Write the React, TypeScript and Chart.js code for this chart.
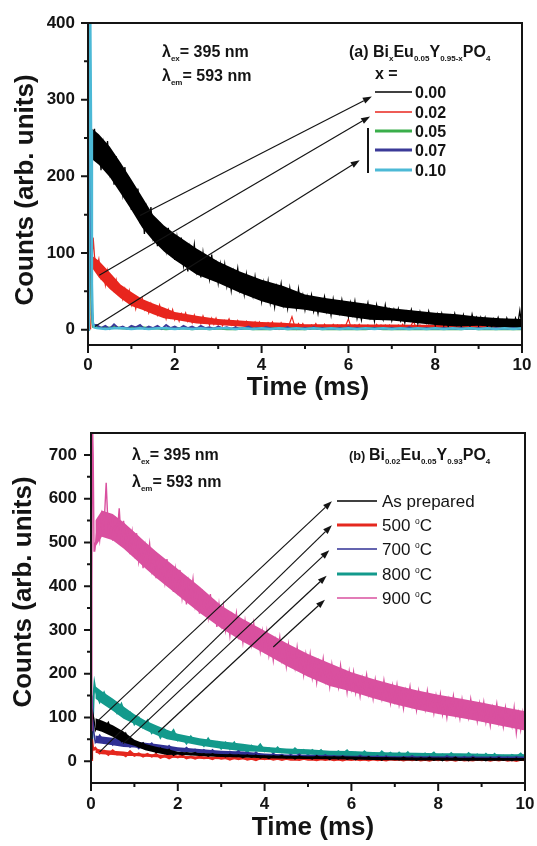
import React, { useEffect, useRef } from 'react';
import { Chart, registerables } from 'chart.js';

Chart.register(...registerables);

const FONT = '"Liberation Sans", Arial, Helvetica, sans-serif';
const INK = '#141414';

// ---------- axes ----------
const timeTicks = [0, 2, 4, 6, 8, 10];
const timeMinorTicks = [1, 3, 5, 7, 9];
const countTicksA = [0, 100, 200, 300, 400];
const countMinorTicksA = [50, 150, 250, 350];
const countTicksB = [0, 100, 200, 300, 400, 500, 600, 700];
const countMinorTicksB = [50, 150, 250, 350, 450, 550, 650];
const timeRange = [0, 10];
const countRangeA = [-20, 400];
const countRangeB = [-50, 750];

// times at which the dense noise band (lower / upper edge of the trace) was read
const envTimes = [0.1, 0.25, 0.5, 0.75, 1, 1.25, 1.5, 1.75, 2, 2.5, 3, 3.5, 4, 4.5, 5, 5.5, 6, 6.5, 7, 7.5, 8, 8.5, 9, 9.5, 10];

// ---------- panel (a): BixEu0.05Y0.95-xPO4 ----------
const seriesNamesA = ['0.00', '0.02', '0.05', '0.07', '0.10'];
const colorsA = ['#000000', '#e8261e', '#3aae4a', '#3b3a98', '#4cb9d6'];

const a000OnsetT = [0, 0.02];
const a000OnsetC = [0, 250];
const a000Start = 0.05;
const a000Step = 0.05;
const a000Counts = [
  262, 230, 262, 219, 242, 208, 243, 221, 246, 205, 225, 189, 226, 193, 200, 177, 212, 178, 192, 156,
  188, 155, 184, 139, 160, 125, 158, 135, 160, 121, 138, 109, 140, 114, 121, 103, 133, 106, 120, 91,
  120, 94, 120, 84, 104, 76, 107, 89, 111, 77, 96, 68, 100, 75, 83, 66, 98, 71, 86, 61,
  85, 64, 85, 57, 74, 51, 76, 62, 80, 52, 67, 46, 72, 51, 58, 44, 69, 48, 60, 37,
  61, 41, 63, 35, 52, 30, 56, 42, 60, 33, 49, 28, 54, 34, 42, 28, 53, 32, 45, 26,
  43, 29, 45, 24, 37, 21, 39, 30, 43, 24, 36, 19, 40, 24, 30, 21, 39, 24, 33, 17,
  35, 20, 37, 15, 29, 13, 31, 22, 35, 16, 28, 11, 32, 17, 22, 13, 32, 16, 26, 12,
  26, 15, 27, 12, 21, 9, 23, 15, 26, 12, 21, 8, 23, 12, 16, 9, 24, 12, 19, 6,
  20, 10, 21, 6, 16, 4, 18, 10, 21, 7, 16, 4, 19, 8, 12, 5, 20, 8, 16, 5,
  16, 7, 16, 4, 12, 3, 14, 8, 16, 5, 12, 3, 15, 6, 9, 3, 15, 6, 25, 2,
];
const a000Lower = [222, 215, 199, 178, 156, 133, 116, 102, 91, 72, 61, 48, 37, 29, 26, 21, 17, 13, 12, 9, 6, 4, 5, 3, 2];
const a000Upper = [262, 255, 239, 218, 196, 173, 150, 136, 125, 106, 89, 76, 65, 57, 46, 41, 37, 33, 28, 25, 22, 20, 17, 15, 14];

const a002OnsetT = [0, 0.06, 0.08, 0.1, 0.12];
const a002OnsetC = [0, 1, 30, 95, 120];
const a002Start = 0.15;
const a002Step = 0.05;
const a002Counts = [
  96, 79, 92, 68, 78, 58, 77, 59, 62, 51, 65, 50, 55, 40, 53, 39, 51, 32, 41, 27,
  41, 32, 41, 26, 33, 22, 34, 24, 27, 19, 32, 21, 26, 14, 26, 16, 26, 13, 20, 11,
  21, 15, 22, 11, 17, 9, 19, 11, 14, 8, 18, 10, 14, 6, 15, 7, 15, 6, 11, 5,
  12, 8, 14, 6, 11, 4, 12, 6, 8, 5, 11, 6, 9, 3, 10, 4, 10, 2, 7, 2,
  9, 5, 10, 2, 7, 1, 9, 3, 5, 2, 9, 17, 7, 1, 8, 3, 8, 1, 5, 1,
  6, 3, 8, 2, 5, 1, 7, 3, 4, 2, 7, 3, 6, 1, 6, 2, 7, 14,
  5, 1, 6, 3, 7, 2, 5, 1, 6, 3, 4, 2, 7, 3, 6, 1, 6, 2, 6, 1,
  5, 2, 6, 1, 7, 2, 4, 1, 6, 11, 4, 1, 6, 3, 5, 1, 6, 2, 5, 1,
  5, 1, 6, 2, 6, 1, 4, 10, 5, 2, 4, 1, 6, 2, 5, 1, 6, 2, 5, 1,
  4, 1, 5, 2, 6, 1, 4, 2, 5, 1, 4, 10, 5, 2, 4, 1, 5, 2, 4, 1,
];
const a002Lower = [80, 68, 53, 41, 31, 26, 20, 15, 13, 8, 6, 4, 2, 1, 1, 1, 1, 1, 1, 1, 1, 1, 1, 1, 1];
const a002Upper = [96, 90, 75, 59, 49, 40, 34, 29, 23, 18, 14, 12, 10, 9, 7, 7, 7, 6.8, 6.6, 6.5, 6.4, 6.3, 6.2, 6.1, 6];

const a005OnsetT = [0, 0.02, 0.04, 0.06, 0.09, 0.12];
const a005OnsetC = [0, 200, 360, 180, 20, 4];
const a005Start = 0.2;
const a005Step = 0.2;
const a005Counts = [
  3, 2, 3, 2, 2, 3, 2, 2, 1, 2, 2, 1, 2, 1, 2, 1, 1, 2, 1, 1,
  1, 2, 1, 1, 1, 2, 1, 1, 1, 1, 1, 1, 2, 1, 1, 1, 1, 1, 1, 1,
  1, 1, 1, 2, 1, 1, 1, 1, 1, 1,
];

const a007OnsetT = [0, 0.02, 0.035, 0.06, 0.09, 0.12];
const a007OnsetC = [0, 260, 420, 160, 25, 6];
const a007Start = 0.2;
const a007Step = 0.1;
const a007Counts = [
  6, 2, 5, 1, 7, 2, 4, 1, 5, 3, 6, 1, 4, 2, 5, 1, 6, 2, 4, 1,
  5, 2, 4, 1, 5, 2, 3, 1, 4, 2, 3, 1, 3, 1, 2, 4, 1, 2, 1, 3,
  2, 1, 2, 1, 3, 1, 2, 1, 2, 1, 3, 1, 2, 1, 2, 1, 2, 1, 3, 1,
  2, 1, 2, 1, 2, 1, 2, 1, 2, 1, 2, 1, 3, 1, 2, 1, 2, 1, 2, 1,
  2, 1, 2, 1, 2, 1, 2, 1, 2, 1, 2, 1, 2, 1, 2, 1, 2, 1, 2,
];

const a010OnsetT = [0, 0.015, 0.03, 0.05, 0.07, 0.09, 0.11, 0.14];
const a010OnsetC = [0, 250, 440, 430, 260, 60, 10, 3];
const a010Start = 0.2;
const a010Step = 0.2;
const a010Counts = [
  2, 1, 2, 2, 1, 2, 1, 2, 2, 1, 2, 1, 2, 1, 2, 2, 1, 2, 1, 2,
  1, 2, 1, 2, 1, 2, 1, 2, 1, 2, 1, 2, 1, 2, 1, 2, 1, 2, 1, 2,
  1, 2, 1, 2, 1, 2, 1, 2, 1, 2,
];

// arrows of panel (a): [time0, count0, time1, count1]
const arrowsA = [
  [1.2, 149, 6.54, 304],
  [0.26, 71, 6.5, 278],
  [0.16, 4, 6.26, 221],
];

// ---------- panel (b): Bi0.02Eu0.05Y0.93PO4 ----------
const seriesNamesB = ['As prepared', '500 °C', '700 °C', '800 °C', '900 °C'];
const colorsB = ['#000000', '#e5281f', '#303094', '#139a8c', '#d9509f'];

const bAsOnsetT = [0, 0.02, 0.04, 0.07];
const bAsOnsetC = [5, 80, 110, 95];
const bAsStart = 0.1;
const bAsStep = 0.1;
const bAsCounts = [
  70, 91, 75, 89, 60, 70, 45, 64, 41, 43, 32, 42, 29, 32, 19, 30, 18, 27, 13, 19,
  14, 19, 16, 20, 13, 17, 11, 17, 12, 13, 10, 16, 11, 14, 8, 14, 9, 14, 7, 11,
  6, 12, 9, 13, 7, 11, 5, 12, 7, 8, 5, 12, 7, 10, 4, 10, 5, 11, 4, 8,
  3, 9, 6, 10, 4, 8, 2, 9, 4, 6, 3, 9, 4, 7, 2, 8, 3, 9, 2, 6,
  1, 7, 4, 9, 2, 6, 1, 8, 3, 5, 1, 7, 3, 8, 2, 6, 1, 7, 2, 5,
];
const bAsLower = [72, 67, 56, 42, 35, 25, 19, 14, 14.6, 11.6, 9.6, 8.1, 6.6, 5.6, 4.6, 4.2, 3.6, 2.8, 2.2, 1.6, 1.6, 1.1, 0.8, 0.6, 0.6];
const bAsUpper = [98, 93, 82, 68, 49, 39, 33, 28, 21.4, 18.4, 16.4, 14.9, 13.4, 12.4, 11.4, 11, 10.4, 9.6, 9, 8.4, 8.4, 7.9, 7.6, 7.4, 7.4];

const b500OnsetT = [0, 0.02, 0.04, 0.07];
const b500OnsetC = [3, 50, 32, 27];
const b500Start = 0.1;
const b500Step = 0.1;
const b500Counts = [
  30, 18, 23, 15, 24, 16, 18, 12, 22, 13, 17, 11, 16, 11, 16, 8, 12, 7, 12, 9,
  13, 7, 10, 6, 10, 7, 8, 5, 10, 6, 8, 4, 8, 5, 8, 4, 6, 3, 7, 5,
  7, 4, 6, 3, 6, 4, 4, 3, 6, 4, 4.5, 2.5, 5, 3, 5, 2.5, 4, 2, 4.5, 3.2,
  5, 2.5, 4, 2, 4.6, 2.8, 3.5, 2.2, 4.8, 3, 4, 1.8, 4.2, 2.4, 4.4, 2, 3.5, 1.6, 4, 2.8,
  4.4, 2, 3.5, 1.6, 4, 2.3, 3, 1.8, 4.2, 2.5, 3.5, 1.5, 3.8, 2, 4, 1.6, 3, 1.2, 3.6, 2.4,
];
const b500Lower = [19, 16, 14, 12, 11.6, 10.1, 8.6, 7.6, 7.5, 5.5, 4.5, 3.5, 3.3, 2.8, 2.7, 2.3, 2.2, 2.1, 1.9, 1.8, 1.7, 1.6, 1.5, 1.4, 1.3];
const b500Upper = [29, 26, 24, 22, 18.4, 16.9, 15.4, 14.4, 12.5, 10.5, 9.5, 8.5, 6.7, 6.2, 5.3, 4.9, 4.8, 4.7, 4.5, 4.4, 4.3, 4.2, 4.1, 4, 3.9];

const b700OnsetT = [0, 0.02, 0.04, 0.06, 0.08];
const b700OnsetC = [5, 150, 110, 70, 55];
const b700Start = 0.1;
const b700Step = 0.1;
const b700Counts = [
  43, 59, 45, 51, 37, 51, 37, 50, 32, 40, 29, 41, 33, 41, 27, 34, 23, 35, 25, 28,
  22, 31, 23, 27, 18, 26, 18, 26, 15, 21, 13, 22, 17, 23, 13, 18, 11, 20, 13, 14,
  11, 17, 12, 15, 9, 15, 10, 16, 8, 12, 7, 13, 9, 14, 8, 12, 6, 12, 7, 9,
  6, 13, 8, 11, 6, 12, 6, 12, 5, 9, 4, 10, 7, 12, 6, 10, 4, 11, 6, 8,
  5, 12, 7, 10, 4, 10, 5, 11, 4, 8, 3, 9, 6, 11, 5, 9, 3, 10, 5, 7,
];
const b700Lower = [41.5, 39.5, 36.5, 32.5, 31, 28, 25, 22, 22, 18, 14, 12, 10.6, 8.6, 7.6, 6.6, 5.6, 5.6, 4.6, 4.6, 4.6, 3.6, 3.6, 3.6, 3.6];
const b700Upper = [58.5, 56.5, 53.5, 49.5, 45, 42, 39, 36, 32, 28, 24, 22, 17.4, 15.4, 14.4, 13.4, 12.4, 12.4, 11.4, 11.4, 11.4, 10.4, 10.4, 10.4, 10.4];

const b800OnsetT = [0, 0.03, 0.06, 0.08];
const b800OnsetC = [5, 60, 150, 175];
const b800Start = 0.1;
const b800Step = 0.1;
const b800Counts = [
  163, 136, 156, 130, 131, 111, 130, 103, 110, 85, 99, 78, 92, 65, 75, 54, 71, 57, 70, 48,
  56, 41, 56, 42, 45, 35, 51, 36, 43, 29, 42, 29, 42, 24, 34, 20, 35, 26, 38, 23,
  29, 19, 31, 21, 24, 18, 29, 20, 25, 15, 25, 17, 25, 13, 20, 11, 22, 16, 24, 13,
  19, 10, 22, 13, 16, 10, 22, 13, 19, 8, 19, 10, 20, 7, 15, 6, 17, 12, 19, 8,
  15, 6, 18, 9, 13, 6, 18, 9, 15, 5, 16, 7, 16, 4, 12, 3, 14, 9, 17, 6,
];
const b800Lower = [143, 132, 115, 97, 85, 71, 60, 50, 45.5, 35.5, 28.5, 22.5, 21, 17, 15, 12, 11, 9, 8, 7, 6, 6, 5, 4, 4];
const b800Upper = [171, 160, 143, 125, 107, 93, 82, 72, 62.5, 52.5, 45.5, 39.5, 33, 29, 27, 24, 23, 21, 20, 19, 18, 18, 17, 16, 16];

const b900OnsetT = [0, 0.02, 0.035, 0.05, 0.07, 0.085];
const b900OnsetC = [70, 400, 770, 700, 480, 500];
const b900Start = 0.1;
const b900Step = 0.05;
const b900Counts = [
  492, 541, 505, 564, 538, 636, 519, 552, 504, 559, 514, 578, 496, 549, 502, 525, 473, 523, 476, 521,
  457, 490, 441, 492, 460, 497, 437, 467, 418, 473, 427, 441, 408, 462, 415, 439, 387, 438, 392, 437,
  373, 408, 358, 410, 378, 416, 356, 387, 337, 393, 347, 361, 328, 382, 335, 359, 307, 358, 313, 354,
  299, 329, 287, 332, 305, 338, 287, 314, 272, 320, 281, 293, 266, 314, 273, 295, 252, 296, 257, 296,
  242, 273, 231, 276, 249, 283, 232, 259, 217, 266, 227, 240, 213, 260, 220, 242, 198, 243, 204, 244,
  191, 222, 180, 226, 200, 234, 184, 212, 171, 220, 182, 195, 169, 218, 178, 201, 158, 204, 166, 203,
  157, 185, 149, 190, 167, 197, 153, 178, 143, 186, 153, 165, 142, 184, 149, 169, 133, 172, 139, 174,
  129, 157, 121, 162, 140, 170, 127, 152, 117, 160, 128, 140, 118, 160, 126, 146, 110, 149, 117, 152,
  107, 135, 100, 141, 119, 149, 106, 131, 98, 141, 109, 121, 99, 141, 107, 127, 92, 131, 99, 134,
  89, 117, 82, 123, 101, 131, 88, 113, 79, 122, 90, 102, 80, 122, 65, 108, 72, 111, 79,
];
const b900Lower = [490, 513, 505, 486, 464, 441, 419, 399, 379, 339, 304, 273, 246, 218, 193, 172, 159, 144, 130, 118, 108, 99, 90, 80, 70];
const b900Upper = [550, 573, 565, 546, 524, 501, 479, 459, 439, 399, 356, 325, 298, 270, 245, 224, 203, 188, 174, 162, 152, 143, 134, 124, 114];

const arrowsB = [
  [0.17, 93, 5.55, 594],
  [0.2, 21, 5.55, 539],
  [0.74, 40, 5.49, 482],
  [1.55, 66, 5.43, 424],
  [4.2, 261, 5.39, 369],
];

// ---------- helpers ----------
type Pt = { x: number; y: number };
function buildSeries(onsetT: number[], onsetC: number[], start: number, step: number, counts: number[]): Pt[] {
  const pts: Pt[] = onsetT.map((t, i) => ({ x: t, y: onsetC[i] }));
  counts.forEach((c, i) => pts.push({ x: +(start + i * step).toFixed(4), y: c }));
  return pts;
}
function edge(values: number[]): Pt[] {
  return envTimes.map((t, i) => ({ x: t, y: values[i] }));
}

type Run = { t: string; k?: 'sub' | 'sup'; s?: number };

function drawRuns(ctx: CanvasRenderingContext2D, x: number, y: number, runs: Run[], size: number, weight: string) {
  let cx = x;
  for (const r of runs) {
    const base = size * (r.s || 1);
    const fs = r.k ? size * 0.5 : base;
    ctx.font = `${weight} ${fs}px ${FONT}`;
    const dy = r.k === 'sub' ? size * 0.28 : r.k === 'sup' ? -size * 0.42 : 0;
    ctx.fillText(r.t, cx, y + dy);
    cx += ctx.measureText(r.t).width;
  }
}

function nameRuns(name: string): Run[] {
  const i = name.indexOf('°');
  if (i < 0) return [{ t: name }];
  return [{ t: name.slice(0, i) }, { t: 'o', k: 'sup' }, { t: name.slice(i + 1) }];
}

type Series = { points: Pt[]; color: string; width: number; order: number; band?: { lower: Pt[]; upper: Pt[] } };
type Panel = {
  series: Series[];
  yRange: number[];
  yMajor: number[];
  yMinor: number[];
  padding: { top: number; right: number; left: number; bottom: number };
  yAxisWidth: number;
  xAxisHeight: number;
  xTickGap: number;
  yTickGap: number;
  arrows: number[][];
  texts: { x: number; y: number; runs: Run[]; size: number; weight: string }[];
  legend: { x0: number; x1: number; tx: number; ys: number[]; names: string[]; colors: string[]; widths: number[]; size: number; weight: string };
  bracket?: { x: number; y0: number; y1: number };
  xTitle: { x: number; y: number };
  yTitle: { x: number; y: number };
};

function decorate(chart: any, p: Panel) {
  const { ctx, chartArea: a } = chart;
  const xs = chart.scales.x;
  const ys = chart.scales.y;
  ctx.save();
  ctx.strokeStyle = INK;
  ctx.fillStyle = INK;
  ctx.lineWidth = 2;
  ctx.strokeRect(a.left, a.top, a.right - a.left, a.bottom - a.top);
  ctx.beginPath();
  timeTicks.forEach((v) => { const px = xs.getPixelForValue(v); ctx.moveTo(px, a.bottom); ctx.lineTo(px, a.bottom + 8); });
  timeMinorTicks.forEach((v) => { const px = xs.getPixelForValue(v); ctx.moveTo(px, a.bottom); ctx.lineTo(px, a.bottom + 4); });
  p.yMajor.forEach((v) => { const py = ys.getPixelForValue(v); ctx.moveTo(a.left, py); ctx.lineTo(a.left - 7, py); });
  p.yMinor.forEach((v) => { const py = ys.getPixelForValue(v); ctx.moveTo(a.left, py); ctx.lineTo(a.left - 4, py); });
  ctx.stroke();

  // arrows
  ctx.lineWidth = 1.2;
  p.arrows.forEach(([t0, c0, t1, c1]) => {
    const x0 = xs.getPixelForValue(t0), y0 = ys.getPixelForValue(c0);
    const x1 = xs.getPixelForValue(t1), y1 = ys.getPixelForValue(c1);
    const ang = Math.atan2(y1 - y0, x1 - x0);
    const L = 9, W = 3.2;
    const bx = x1 - L * Math.cos(ang), by = y1 - L * Math.sin(ang);
    ctx.beginPath(); ctx.moveTo(x0, y0); ctx.lineTo(bx, by); ctx.stroke();
    ctx.beginPath();
    ctx.moveTo(x1, y1);
    ctx.lineTo(bx + W * Math.sin(ang), by - W * Math.cos(ang));
    ctx.lineTo(bx - W * Math.sin(ang), by + W * Math.cos(ang));
    ctx.closePath(); ctx.fill();
  });

  if (p.bracket) {
    ctx.lineWidth = 2;
    ctx.beginPath(); ctx.moveTo(p.bracket.x, p.bracket.y0); ctx.lineTo(p.bracket.x, p.bracket.y1); ctx.stroke();
  }

  ctx.textBaseline = 'alphabetic';
  ctx.textAlign = 'left';
  p.texts.forEach((t) => drawRuns(ctx, t.x, t.y, t.runs, t.size, t.weight));

  const lg = p.legend;
  lg.ys.forEach((y, i) => {
    ctx.strokeStyle = lg.colors[i];
    ctx.lineWidth = lg.widths[i];
    ctx.beginPath(); ctx.moveTo(lg.x0, y); ctx.lineTo(lg.x1, y); ctx.stroke();
    ctx.fillStyle = INK;
    drawRuns(ctx, lg.tx, y + lg.size * 0.36, nameRuns(lg.names[i]), lg.size, lg.weight);
  });

  ctx.fillStyle = INK;
  ctx.font = `bold 26px ${FONT}`;
  ctx.textAlign = 'center';
  ctx.fillText('Time (ms)', p.xTitle.x, p.xTitle.y);
  ctx.save();
  ctx.translate(p.yTitle.x, p.yTitle.y);
  ctx.rotate(-Math.PI / 2);
  ctx.textBaseline = 'middle';
  ctx.fillText('Counts (arb. units)', 0, 0);
  ctx.restore();
  ctx.restore();
}

const hiddenGrid = (len: number) => ({
  display: true,
  drawOnChartArea: false,
  drawTicks: true,
  tickLength: len,
  color: 'rgba(0,0,0,0)',
});

function makeDatasets(p: Panel) {
  const out: any[] = [];
  p.series.forEach((s) => {
    if (s.band) {
      out.push({ data: s.band.lower, borderWidth: 0, borderColor: 'rgba(0,0,0,0)', pointRadius: 0, tension: 0, fill: false, order: s.order + 0.5 });
      out.push({ data: s.band.upper, borderWidth: 0, borderColor: 'rgba(0,0,0,0)', backgroundColor: s.color, pointRadius: 0, tension: 0, fill: '-1', order: s.order + 0.5 });
    }
    out.push({ data: s.points, borderColor: s.color, borderWidth: s.width, pointRadius: 0, tension: 0, fill: false, order: s.order, borderJoinStyle: 'miter' });
  });
  return out;
}

function makeConfig(p: Panel): any {
  return {
    type: 'line',
    data: { datasets: makeDatasets(p) },
    options: {
      animation: false,
      responsive: false,
      events: [],
      parsing: false,
      layout: { padding: p.padding },
      plugins: { legend: { display: false }, tooltip: { enabled: false }, title: { display: false } },
      scales: {
        x: {
          type: 'linear',
          min: timeRange[0],
          max: timeRange[1],
          grid: hiddenGrid(p.xTickGap),
          border: { display: false },
          ticks: { font: { family: FONT, size: 17, weight: 'bold' }, color: INK, padding: 0, maxRotation: 0, autoSkip: false, callback: (v: number) => String(v) },
          afterBuildTicks: (s: any) => { s.ticks = timeTicks.map((v) => ({ value: v })); },
          afterFit: (s: any) => { s.height = p.xAxisHeight; },
        },
        y: {
          type: 'linear',
          min: p.yRange[0],
          max: p.yRange[1],
          grid: hiddenGrid(p.yTickGap),
          border: { display: false },
          ticks: { font: { family: FONT, size: 17, weight: 'bold' }, color: INK, padding: 0, autoSkip: false, callback: (v: number) => String(v) },
          afterBuildTicks: (s: any) => { s.ticks = p.yMajor.map((v) => ({ value: v })); },
          afterFit: (s: any) => { s.width = p.yAxisWidth; },
        },
      },
    },
    plugins: [{ id: 'decor', afterDatasetsDraw: (chart: any) => decorate(chart, p) }],
  };
}

const lamEx: Run[] = [{ t: 'λ' }, { t: 'ex', k: 'sub' }, { t: '= 395 nm' }];
const lamEm: Run[] = [{ t: 'λ' }, { t: 'em', k: 'sub' }, { t: '= 593 nm' }];
const formulaA: Run[] = [{ t: '(a) Bi' }, { t: 'x', k: 'sub' }, { t: 'Eu' }, { t: '0.05', k: 'sub' }, { t: 'Y' }, { t: '0.95-x', k: 'sub' }, { t: 'PO' }, { t: '4', k: 'sub' }];
const formulaB: Run[] = [{ t: '(b) ', s: 0.8 }, { t: 'Bi' }, { t: '0.02', k: 'sub' }, { t: 'Eu' }, { t: '0.05', k: 'sub' }, { t: 'Y' }, { t: '0.93', k: 'sub' }, { t: 'PO' }, { t: '4', k: 'sub' }];

const panelA: Panel = {
  series: [
    { points: buildSeries(a000OnsetT, a000OnsetC, a000Start, a000Step, a000Counts), color: colorsA[0], width: 1.3, order: 3, band: { lower: edge(a000Lower), upper: edge(a000Upper) } },
    { points: buildSeries(a002OnsetT, a002OnsetC, a002Start, a002Step, a002Counts), color: colorsA[1], width: 1.2, order: 4, band: { lower: edge(a002Lower), upper: edge(a002Upper) } },
    { points: buildSeries(a005OnsetT, a005OnsetC, a005Start, a005Step, a005Counts), color: colorsA[2], width: 2.5, order: 2 },
    { points: buildSeries(a007OnsetT, a007OnsetC, a007Start, a007Step, a007Counts), color: colorsA[3], width: 2, order: 1 },
    { points: buildSeries(a010OnsetT, a010OnsetC, a010Start, a010Step, a010Counts), color: colorsA[4], width: 2.5, order: 0 },
  ],
  yRange: countRangeA,
  yMajor: countTicksA,
  yMinor: countMinorTicksA,
  padding: { top: 23, right: 15, left: 0, bottom: 0 },
  yAxisWidth: 88,
  xAxisHeight: 75,
  xTickGap: 10,
  yTickGap: 13,
  arrows: arrowsA,
  texts: [
    { x: 162, y: 57, runs: lamEx, size: 16, weight: 'bold' },
    { x: 162, y: 81, runs: lamEm, size: 16, weight: 'bold' },
    { x: 349, y: 57, runs: formulaA, size: 16, weight: 'bold' },
    { x: 375, y: 79, runs: [{ t: 'x =' }], size: 16, weight: 'bold' },
  ],
  legend: { x0: 375, x1: 412, tx: 415, ys: [92, 112, 131, 150, 170], names: seriesNamesA, colors: colorsA, widths: [1.3, 1.3, 3, 3, 3], size: 16, weight: 'bold' },
  bracket: { x: 368, y0: 128, y1: 173 },
  xTitle: { x: 308, y: 395 },
  yTitle: { x: 26, y: 190 },
};

const panelB: Panel = {
  series: [
    { points: buildSeries(bAsOnsetT, bAsOnsetC, bAsStart, bAsStep, bAsCounts), color: colorsB[0], width: 1.3, order: 1, band: { lower: edge(bAsLower), upper: edge(bAsUpper) } },
    { points: buildSeries(b500OnsetT, b500OnsetC, b500Start, b500Step, b500Counts), color: colorsB[1], width: 2.5, order: 2, band: { lower: edge(b500Lower), upper: edge(b500Upper) } },
    { points: buildSeries(b700OnsetT, b700OnsetC, b700Start, b700Step, b700Counts), color: colorsB[2], width: 1.6, order: 3, band: { lower: edge(b700Lower), upper: edge(b700Upper) } },
    { points: buildSeries(b800OnsetT, b800OnsetC, b800Start, b800Step, b800Counts), color: colorsB[3], width: 2.2, order: 4, band: { lower: edge(b800Lower), upper: edge(b800Upper) } },
    { points: buildSeries(b900OnsetT, b900OnsetC, b900Start, b900Step, b900Counts), color: colorsB[4], width: 1.4, order: 0, band: { lower: edge(b900Lower), upper: edge(b900Upper) } },
  ],
  yRange: countRangeB,
  yMajor: countTicksB,
  yMinor: countMinorTicksB,
  padding: { top: 13, right: 12, left: 0, bottom: 0 },
  yAxisWidth: 91,
  xAxisHeight: 63,
  xTickGap: 11,
  yTickGap: 14,
  arrows: arrowsB,
  texts: [
    { x: 132, y: 40, runs: lamEx, size: 16, weight: 'bold' },
    { x: 132, y: 67, runs: lamEm, size: 16, weight: 'bold' },
    { x: 349, y: 40, runs: formulaB, size: 16, weight: 'bold' },
  ],
  legend: { x0: 337, x1: 377, tx: 382, ys: [81, 105, 129, 154, 178], names: seriesNamesB, colors: colorsB, widths: [1.5, 3, 1.3, 3, 1.3], size: 17, weight: 'normal' },
  xTitle: { x: 313, y: 415 },
  yTitle: { x: 24, y: 172 },
};

function ChartCanvas({ panel, width, height, top }: { panel: Panel; width: number; height: number; top: number }) {
  const ref = useRef<HTMLCanvasElement | null>(null);
  useEffect(() => {
    if (!ref.current) return;
    const chart = new Chart(ref.current, makeConfig(panel));
    return () => chart.destroy();
  }, [panel]);
  return <canvas ref={ref} width={width} height={height} style={{ position: 'absolute', left: 0, top, width, height }} />;
}

export default function App() {
  return (
    <div style={{ position: 'absolute', left: 0, top: 0, width: 537, height: 846, background: '#ffffff', overflow: 'hidden' }}>
      <ChartCanvas panel={panelA} width={537} height={420} top={0} />
      <ChartCanvas panel={panelB} width={537} height={426} top={420} />
    </div>
  );
}
